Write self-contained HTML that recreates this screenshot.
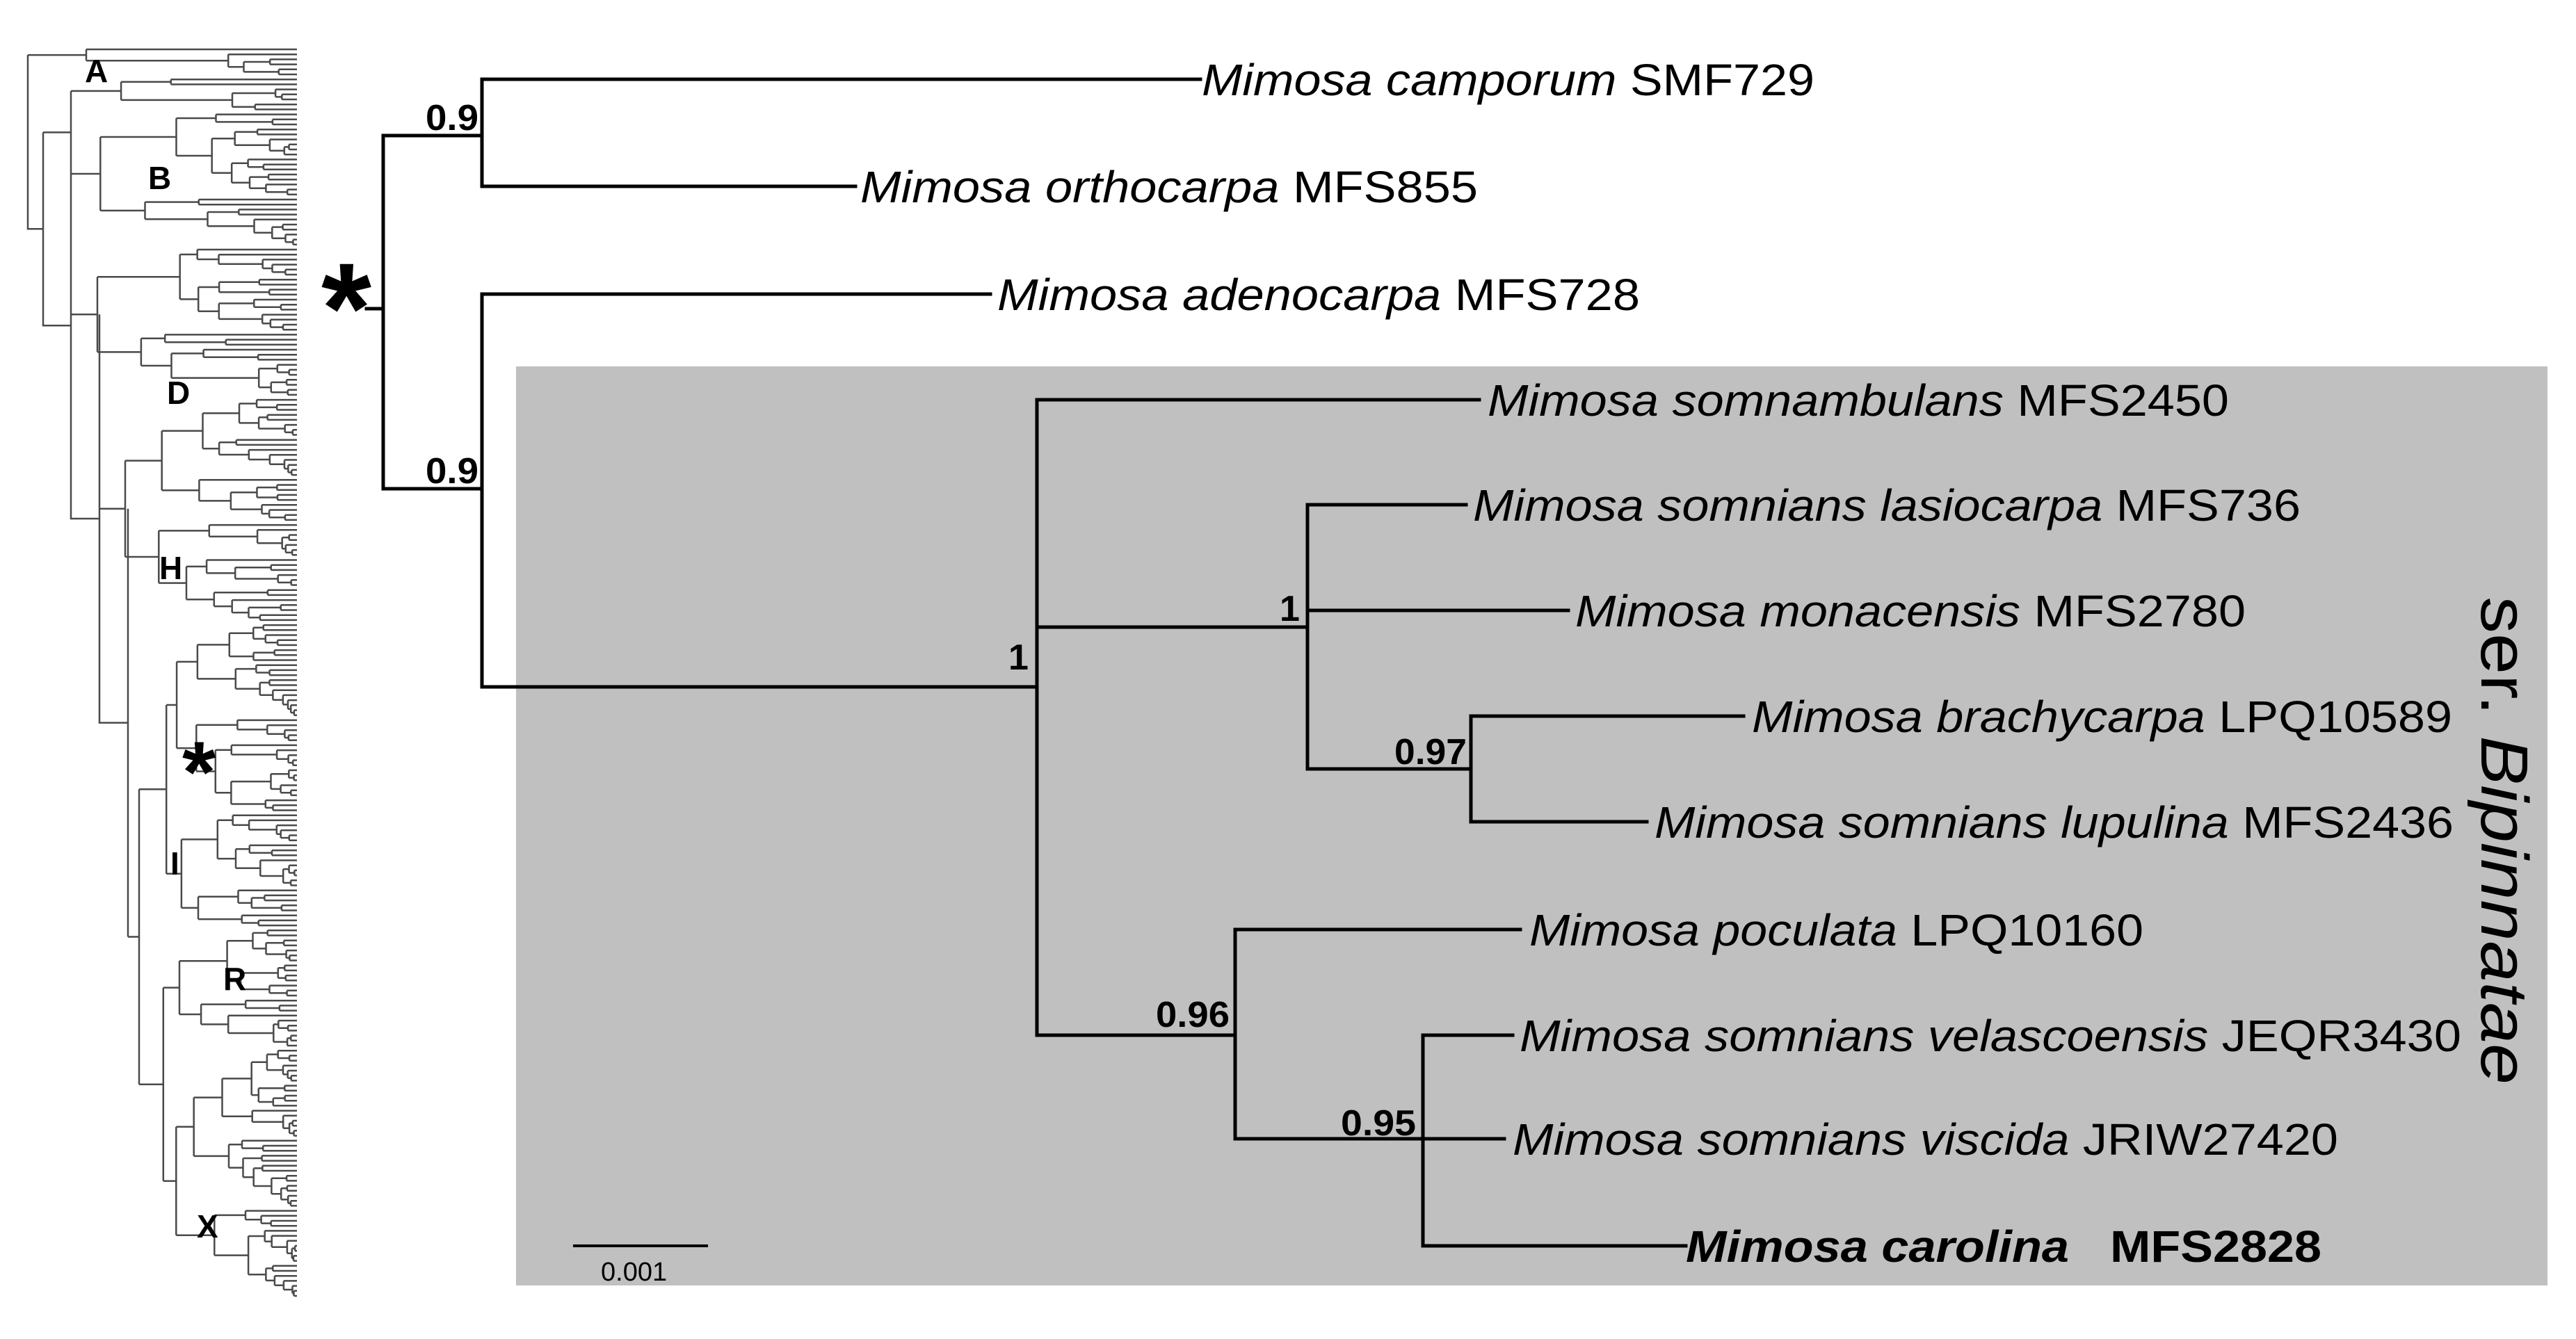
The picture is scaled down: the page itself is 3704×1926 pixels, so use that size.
<!DOCTYPE html>
<html><head><meta charset="utf-8"><style>
html,body{margin:0;padding:0;background:#fff;}
svg{display:block;}
text{font-family:"Liberation Sans",Arial,sans-serif;}
</style></head><body>
<svg id="s" width="3704" height="1926" viewBox="0 0 3704 1926" xmlns="http://www.w3.org/2000/svg">
<rect x="0" y="0" width="3704" height="1926" fill="#fff"/>
<rect x="742" y="527" width="2921" height="1322" fill="#c0c0c0"/>
<g id="mini" stroke="#4a4a4a" stroke-width="2.5" fill="none"></g>
<g fill="#000" font-weight="bold" font-size="46">
<text x="122" y="118">A</text><text x="213" y="272">B</text><text x="240" y="581">D</text>
<text x="229" y="833">H</text><text x="245" y="1258">I</text><text x="321" y="1424">R</text>
<text x="283" y="1780">X</text>
</g>
<text x="262" y="1153" font-size="124" font-weight="bold">*</text>
<text x="462" y="507" font-size="185" font-weight="bold">*</text>
<g stroke="#000" stroke-width="5" fill="none" stroke-linecap="square">
<path d="M527 444H551M551 195V703M551 195H693M693 114V268M693 114H1726M693 268H1230
M551 703H693M693 423V988M693 423H1424M693 988H1491
M1491 575V1489M1491 575H2127M1491 902H1880M1880 726V1106M1880 726H2108M1880 878H2255M1880 1106H2115
M2115 1030V1182M2115 1030H2507M2115 1182H2368
M1491 1489H1776M1776 1337V1638M1776 1337H2186M1776 1638H2046M2046 1489V1792M2046 1489H2175M2046 1638H2163M2046 1792H2424"/>
<path d="M826 1792H1016" stroke-width="4"/>
</g>
<g font-size="52" font-weight="bold" fill="#000">
<text x="612" y="187" textLength="76" lengthAdjust="spacingAndGlyphs">0.9</text>
<text x="612" y="695" textLength="76" lengthAdjust="spacingAndGlyphs">0.9</text>
<text x="1450" y="963">1</text>
<text x="1840" y="893">1</text>
<text x="2005" y="1099" textLength="104" lengthAdjust="spacingAndGlyphs">0.97</text>
<text x="1662" y="1477" textLength="106" lengthAdjust="spacingAndGlyphs">0.96</text>
<text x="1928" y="1633" textLength="108" lengthAdjust="spacingAndGlyphs">0.95</text>
</g>
<g font-size="64" fill="#000">
<text x="1728" y="137" textLength="881" lengthAdjust="spacingAndGlyphs"><tspan font-style="italic">Mimosa camporum</tspan> SMF729</text>
<text x="1237" y="291" textLength="888" lengthAdjust="spacingAndGlyphs"><tspan font-style="italic">Mimosa orthocarpa</tspan> MFS855</text>
<text x="1434" y="446" textLength="924" lengthAdjust="spacingAndGlyphs"><tspan font-style="italic">Mimosa adenocarpa</tspan> MFS728</text>
<text x="2139" y="598" textLength="1066" lengthAdjust="spacingAndGlyphs"><tspan font-style="italic">Mimosa somnambulans</tspan> MFS2450</text>
<text x="2118" y="749" textLength="1190" lengthAdjust="spacingAndGlyphs"><tspan font-style="italic">Mimosa somnians lasiocarpa</tspan> MFS736</text>
<text x="2265" y="901" textLength="964" lengthAdjust="spacingAndGlyphs"><tspan font-style="italic">Mimosa monacensis</tspan> MFS2780</text>
<text x="2519" y="1053" textLength="1007" lengthAdjust="spacingAndGlyphs"><tspan font-style="italic">Mimosa brachycarpa</tspan> LPQ10589</text>
<text x="2379" y="1205" textLength="1149" lengthAdjust="spacingAndGlyphs"><tspan font-style="italic">Mimosa somnians lupulina</tspan> MFS2436</text>
<text x="2199" y="1360" textLength="883" lengthAdjust="spacingAndGlyphs"><tspan font-style="italic">Mimosa poculata</tspan> LPQ10160</text>
<text x="2185" y="1512" textLength="1354" lengthAdjust="spacingAndGlyphs"><tspan font-style="italic">Mimosa somnians velascoensis</tspan> JEQR3430</text>
<text x="2175" y="1661" textLength="1187" lengthAdjust="spacingAndGlyphs"><tspan font-style="italic">Mimosa somnians viscida</tspan> JRIW27420</text>
<text x="2424" y="1815" font-weight="bold" font-style="italic" textLength="551" lengthAdjust="spacingAndGlyphs">Mimosa carolina</text>
<text x="3034" y="1815" font-weight="bold" textLength="304" lengthAdjust="spacingAndGlyphs">MFS2828</text>
</g>
<text x="864" y="1842" font-size="38" fill="#000">0.001</text>
<text transform="translate(3568,858) rotate(90)" font-size="96" fill="#000" textLength="702" lengthAdjust="spacingAndGlyphs">ser. <tspan font-style="italic">Bipinnatae</tspan></text>
</svg>
<script>
(function(){
var seed=12345;function r(){seed=(seed*16807)%2147483647;return (seed-1)/2147483646;}
var N=250,Y0=71,Y1=1864,TX=427,d="";
function Y(i){return Y0+(Y1-Y0)*i/(N-1);}
function node(a,b,x){
 if(b-a==1){var y=Y(a);d+="M"+x.toFixed(1)+" "+y.toFixed(1)+"H"+TX;return y;}
 var n=b-a,k=a+Math.max(1,Math.min(n-1,Math.floor(n*(0.15+r()*0.55))));
 var rem=TX-x;
 var f=n>60?0.06+r()*0.12:(n>10?0.12+r()*0.3:0.2+r()*0.5);
 var x1=x+rem*f, x2=x+rem*(n>60?0.06+r()*0.12:(n>10?0.12+r()*0.3:0.2+r()*0.5));
 if(b-k==1)x2=TX-3;if(k-a==1)x1=TX-3;
 var y1=node(a,k,Math.min(x1,TX-2)),y2=node(k,b,Math.min(x2,TX-2));
 d+="M"+x.toFixed(1)+" "+y1.toFixed(1)+"H"+Math.min(x1,TX-2).toFixed(1);
 d+="M"+x.toFixed(1)+" "+y2.toFixed(1)+"H"+Math.min(x2,TX-2).toFixed(1);
 d+="M"+x.toFixed(1)+" "+y1.toFixed(1)+"V"+y2.toFixed(1);
 return (y1+y2)/2;
}
var yTop=node(0,6,124);
d+="M40 "+yTop.toFixed(1)+"H124";
var yb=node(6,40,102); d+="M62 "+yb+"H102";
var yc=node(40,70,140); d+="M102 "+yc+"H140";
var yd=node(70,115,180); d+="M143 "+yd+"H180";
var ye=node(115,250,200); d+="M184 "+ye+"H200";
d+="M184 "+yd.toFixed(1)+"V"+ye.toFixed(1)+"M143 "+yc.toFixed(1)+"V"+((yd+ye)/2).toFixed(1)+"H184";
var y4=(yc+(yd+ye)/2)/2;
d+="M102 "+yb.toFixed(1)+"V"+y4.toFixed(1)+"H143";
var y3=(yb+y4)/2; d+="M62 "+yb.toFixed(1)+"V"+y3.toFixed(1)+"H102";
d+="M40 "+yTop.toFixed(1)+"V"+((yb+y3)/2).toFixed(1)+"H62";
var p=document.createElementNS("http://www.w3.org/2000/svg","path");
p.setAttribute("d",d);document.getElementById("mini").appendChild(p);
})();
</script>
</body></html>
